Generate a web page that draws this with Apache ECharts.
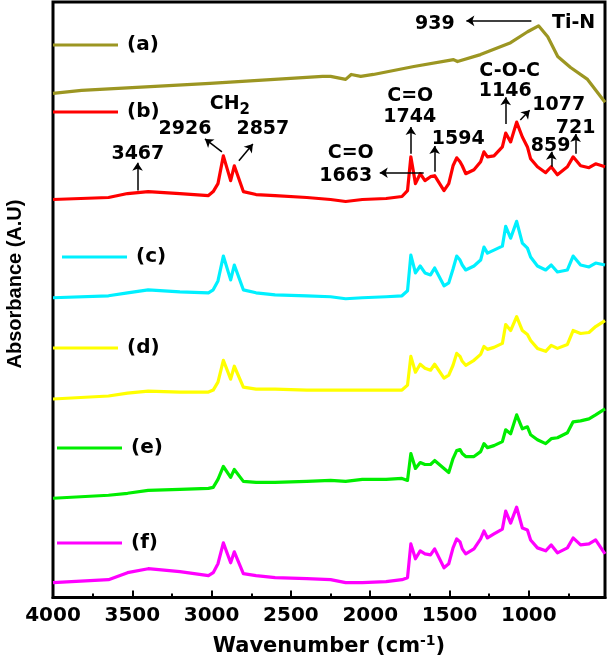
<!DOCTYPE html>
<html>
<head>
<meta charset="utf-8">
<script src="https://cdn.jsdelivr.net/npm/echarts@6/dist/echarts.min.js"></script>
<style>
  html, body { margin: 0; padding: 0; background: #fff; }
  #chart { width: 608px; height: 662px; }
</style>
</head>
<body>
<div id="chart"></div>
<script>
// wavenumbers (cm-1) shared by traces b-f
const wn = [4000, 3650, 3530, 3400, 3200, 3020, 2990, 2960, 2926, 2880, 2857, 2800, 2720, 2600, 2400, 2250, 2155, 2050, 1900, 1800,
  1765, 1744, 1715, 1685, 1655, 1620, 1594, 1535, 1505, 1478, 1455, 1434, 1420, 1398, 1346, 1304, 1283, 1261, 1220, 1167,
  1146, 1115, 1077, 1041, 1009, 989, 946, 894, 859, 820, 757, 721, 674, 621, 579, 520]

// trace (a) has its own grid
const wnA = [4000, 3820, 3010, 2300, 2250, 2155, 2120, 2060, 1980, 1725, 1475, 1450, 1305, 1115, 1008, 939, 881, 818, 737, 630, 520]
const absA = [508, 511, 518, 525, 525, 522, 527, 525, 527, 535, 542, 540, 547, 559, 570, 576, 565, 545, 534, 522, 499]

// stacked absorbance (A.U, offset)
const absB = [401, 403, 407, 409, 407, 405, 409, 417, 445, 420, 435, 409, 406, 405, 403, 401, 399, 401, 402, 404,
  410, 444, 417, 427, 420, 424, 425, 410, 417, 435, 443, 439, 435, 427, 431, 439, 449, 444, 445, 454,
  468, 459, 479, 464, 454, 442, 434, 428, 434, 426, 434, 444, 435, 433, 437, 434]
const absC = [302, 304, 307, 310, 308, 307, 310, 319, 344, 320, 335, 310, 307, 305, 304, 303, 301, 302, 303, 304,
  309, 345, 327, 334, 327, 325, 332, 314, 317, 331, 344, 340, 335, 330, 334, 340, 353, 347, 350, 354,
  374, 362, 379, 357, 352, 343, 334, 330, 335, 328, 330, 344, 335, 333, 337, 335]
const absD = [200, 203, 206, 208, 207, 207, 209, 217, 239, 220, 233, 212, 210, 210, 209, 209, 209, 209, 209, 209,
  214, 243, 227, 235, 231, 229, 235, 221, 224, 234, 246, 243, 238, 234, 239, 245, 253, 250, 252, 256,
  275, 269, 283, 269, 265, 259, 251, 248, 254, 251, 255, 269, 266, 267, 273, 279]
const absE = [100, 103, 105, 108, 109, 110, 111, 119, 132, 121, 129, 117, 116, 116, 117, 118, 117, 119, 119, 120,
  118, 145, 130, 136, 134, 134, 138, 130, 126, 140, 148, 149, 145, 142, 142, 147, 155, 151, 153, 157,
  169, 165, 184, 170, 172, 164, 159, 155, 160, 161, 166, 177, 178, 180, 184, 190]
const absF = [15, 18, 25, 29, 26, 22, 25, 34, 55, 35, 46, 24, 22, 20, 19, 18, 15, 15, 16, 18,
  20, 54, 39, 47, 44, 43, 49, 30, 34, 50, 59, 56, 49, 44, 49, 59, 67, 60, 64, 69,
  87, 75, 91, 70, 68, 58, 50, 47, 53, 45, 50, 60, 53, 54, 58, 44]

const names = ['(a)', '(b)', '(c)', '(d)', '(e)', '(f)']
const colors = ['#9c9622', '#ff0000', '#00f0ff', '#ffff00', '#00ee00', '#ff00ff']

// peak annotations: [text, wavenumber, value]
const peakLabels = [
  ['939', 1593, 578], ['Ti-N', 718, 579],
  ['CH{s|2}', 2885, 497], ['2926', 3168, 472], ['2857', 2677, 472], ['3467', 3465, 447],
  ['C=O', 2123, 448], ['1663', 2154, 425],
  ['C=O', 1748, 505], ['1744', 1751, 484], ['1594', 1445, 462],
  ['C-O-C', 1121, 530], ['1146', 1149, 510], ['1077', 812, 496], ['859', 863, 455], ['721', 705, 473]
]
// arrows: [x tail, y tail, x head, y head]
const peakArrows = [
  [984, 581, 1394, 581],
  [3467, 410, 3467, 438], [2935, 449, 3042, 462], [2828, 440, 2740, 457],
  [1744, 447, 1744, 474], [1663, 428, 1940, 428], [1594, 429, 1594, 455],
  [1146, 477, 1146, 504], [1054, 481, 995, 491], [858, 434, 858, 449], [705, 447, 705, 467]
]

const chart = echarts.init(document.getElementById('chart'))

const font = 'DejaVu Sans'
const traces = [[wnA, absA], [wn, absB], [wn, absC], [wn, absD], [wn, absE], [wn, absF]]
const legendPos = [[53, 35], [53, 102], [62, 247], [53, 338], [57, 438], [57, 533]]

const series = traces.map((t, k) => ({
  name: names[k],
  type: 'line',
  symbol: 'none',
  data: t[0].map((w, i) => [w, t[1][i]]),
  lineStyle: { color: colors[k], width: 3.2, join: 'round' },
  itemStyle: { color: colors[k] },
  z: 2,
}))

series[1].markLine = {
  silent: true,
  symbol: ['none', 'arrow'],
  symbolSize: 8,
  label: { show: false },
  lineStyle: { color: '#000', width: 1.5, type: 'solid' },
  data: peakArrows.map(a => [{ coord: [a[0], a[1]] }, { coord: [a[2], a[3]] }]),
}
series[1].markPoint = {
  silent: true,
  symbol: 'rect',
  symbolSize: 1,
  itemStyle: { color: 'rgba(0,0,0,0)' },
  label: {
    show: true,
    position: 'inside',
    color: '#000',
    fontFamily: font,
    fontWeight: 'bold',
    fontSize: 19,
    formatter: p => p.name,
    rich: {
      s: { fontFamily: font, fontWeight: 'bold', fontSize: 15, color: '#000', verticalAlign: 'bottom', padding: [12, 0, 0, 0] },
    },
  },
  data: peakLabels.map(l => ({ name: l[0], coord: [l[1], l[2]] })),
}

chart.setOption({
  animation: false,
  backgroundColor: '#fff',
  grid: { left: 53, right: 3, top: 2, bottom: 60, show: true, borderColor: '#000', borderWidth: 3 },
  legend: names.map((n, k) => ({
    data: [n],
    left: legendPos[k][0],
    top: legendPos[k][1],
    padding: 0,
    icon: 'rect',
    itemWidth: 65,
    itemHeight: 3,
    selectedMode: false,
    textStyle: { fontFamily: font, fontWeight: 'bold', fontSize: 20, color: '#000', padding: [0, 0, 0, 4] },
  })),
  xAxis: {
    type: 'value',
    inverse: true,
    min: 520,
    max: 4000,
    splitNumber: 7,
    name: 'Wavenumber (cm{sup|-1})',
    nameLocation: 'middle',
    nameGap: 37,
    nameTextStyle: {
      fontFamily: font, fontWeight: 'bold', fontSize: 21, color: '#000',
      rich: { sup: { fontFamily: font, fontWeight: 'bold', fontSize: 14, color: '#000', verticalAlign: 'top', padding: [0, 0, 10, 0] } },
    },
    axisLine: { show: true, lineStyle: { color: '#000', width: 3 } },
    axisTick: { inside: true, length: 7, lineStyle: { color: '#000', width: 2 } },
    minorTick: { show: true, splitNumber: 2, length: 4, lineStyle: { color: '#000', width: 2 } },
    axisLabel: {
      margin: 8, color: '#000', fontFamily: font, fontWeight: 'bold', fontSize: 20,
      formatter: v => (v % 500 === 0 ? String(v) : ''),
    },
    splitLine: { show: false },
  },
  yAxis: { type: 'value', min: 0, max: 600, show: false },
  graphic: [{
    type: 'text',
    x: 15,
    y: 284,
    rotation: Math.PI / 2,
    style: { text: 'Absorbance (A.U)', font: 'bold 20px "Liberation Sans"', fill: '#000', align: 'center', verticalAlign: 'middle' },
  }],
  series,
})
</script>
</body>
</html>
